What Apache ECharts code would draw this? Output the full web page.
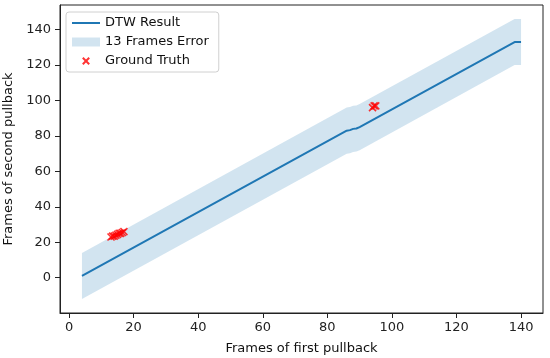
<!DOCTYPE html>
<html>
<head>
<meta charset="utf-8">
<script src="https://cdn.jsdelivr.net/npm/echarts@6/dist/echarts.min.js"></script>
<style>html,body{margin:0;padding:0;background:#fff;}#chart{width:550px;height:358px;}</style>
</head>
<body>
<div id="chart"></div>
<script>
// DTW result path (vertices)
const dtwX = [4, 86, 87, 88, 89, 90, 138, 140];
const dtwY = [1, 83, 83.3, 84, 84.2, 85, 133, 133];
// 13-frame error band (lower / upper edges)
const bandLower = [-12, 70, 70.3, 71, 71.2, 72, 120, 120];
const bandUpper = [14, 96, 96.3, 97, 97.2, 98, 146, 146];
// Ground truth points
const gtX = [13, 13.5, 14, 14.5, 15, 15.5, 16, 16.5, 17, 94, 94.5, 95];
const gtY = [23, 23.5, 23.5, 24, 24.5, 25, 25, 25.5, 26, 96, 97, 97];
// Tick labels
const xTicks = [0, 20, 40, 60, 80, 100, 120, 140];
const yTicks = [0, 20, 40, 60, 80, 100, 120, 140];

const font = 'DejaVu Sans';
const lineData = dtwX.map((x, i) => [x, dtwY[i]]);
const gtData = gtX.map((x, i) => [x, gtY[i]]);
const xPath = 'path://M0,0L10,10M10,0L0,10';
const legendX = 'path://M-2,-2M0,0L10,10M10,0L0,10M12,12';
const legendLine = 'path://M0,0M0,3.5L28,3.5L28,5.5L0,5.5ZM28,9';
const bandColor = 'rgba(31,119,180,0.2)';

const chart = echarts.init(document.getElementById('chart'), null, {renderer: 'canvas'});
chart.setOption({
  animation: false,
  backgroundColor: '#fff',
  textStyle: {fontFamily: font},
  grid: {left: 60, right: 7, top: 5, bottom: 45, containLabel: false, outerBoundsMode: 'none',
         show: true, borderColor: '#222', borderWidth: 1, backgroundColor: 'transparent'},
  legend: {
    orient: 'vertical', left: 66, top: 12,
    backgroundColor: 'rgba(255,255,255,0.85)', borderColor: '#d0d0d0', borderWidth: 1, borderRadius: 3,
    padding: [4, 10, 4, 6], itemWidth: 28, itemHeight: 9, itemGap: 5,
    textStyle: {fontFamily: font, fontSize: 13, color: '#111', lineHeight: 14},
    data: [
      {name: 'DTW Result', icon: legendLine, itemStyle: {color: '#1f77b4', borderWidth: 0}},
      {name: '13 Frames Error', icon: 'rect'},
      {name: 'Ground Truth', icon: legendX}
    ]
  },
  xAxis: {
    type: 'value', min: -2.8, max: 146.8,
    name: 'Frames of first pullback', nameLocation: 'middle', nameGap: 29,
    nameTextStyle: {fontFamily: font, fontSize: 13, color: '#111'},
    axisLine: {show: true, onZero: false, lineStyle: {color: '#222', width: 1}},
    axisTick: {show: true, length: 5, lineStyle: {color: '#222'}, customValues: xTicks},
    axisLabel: {fontFamily: font, fontSize: 13, color: '#222', margin: 8, customValues: xTicks},
    splitLine: {show: false}
  },
  yAxis: {
    type: 'value', min: -19.9, max: 153.9,
    name: 'Frames of second pullback', nameLocation: 'middle', nameGap: 44,
    nameTextStyle: {fontFamily: font, fontSize: 13, color: '#111'},
    axisLine: {show: true, onZero: false, lineStyle: {color: '#222', width: 1}},
    axisTick: {show: true, length: 5, lineStyle: {color: '#222'}, customValues: yTicks},
    axisLabel: {fontFamily: font, fontSize: 13, color: '#222', margin: 9, customValues: yTicks},
    splitLine: {show: false}
  },
  series: [
    {
      name: '13 Frames Error', type: 'custom', z: 1,
      itemStyle: {color: bandColor},
      data: [[dtwX[0], dtwY[0]]],
      renderItem: function (params, api) {
        if (params.dataIndex !== 0) return;
        const pts = [];
        for (let i = 0; i < dtwX.length; i++) pts.push(api.coord([dtwX[i], bandUpper[i]]));
        for (let i = dtwX.length - 1; i >= 0; i--) pts.push(api.coord([dtwX[i], bandLower[i]]));
        return {type: 'polygon', shape: {points: pts}, style: {fill: bandColor}};
      },
      silent: true
    },
    {
      name: 'DTW Result', type: 'line', z: 3, data: lineData,
      symbol: 'none', showSymbol: false,
      lineStyle: {color: '#1f77b4', width: 2},
      itemStyle: {color: '#1f77b4'}
    },
    {
      name: 'Ground Truth', type: 'scatter', z: 4, data: gtData,
      symbol: xPath, symbolSize: 7, symbolKeepAspect: true,
      itemStyle: {color: '#ff0000', borderColor: '#ff0000', borderWidth: 1.6}
    }
  ]
});
</script>
</body>
</html>
